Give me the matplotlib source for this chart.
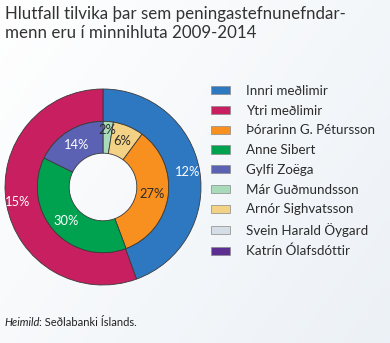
import matplotlib
matplotlib.use("Agg")
import matplotlib.pyplot as plt
from matplotlib.patches import Patch
import numpy as np

plt.rcParams['font.family'] = ['Lato', 'DejaVu Sans']

title = "Hlutfall tilvika þar sem peningastefnunefndar-\nmenn eru í minnihluta 2009-2014"
outer_labels = ["Innri meðlimir", "Ytri meðlimir"]
outer_values = [12, 15]
inner_labels = ["Már Guðmundsson", "Arnór Sighvatsson", "Þórarinn G. Pétursson", "Anne Sibert", "Gylfi Zoëga"]
inner_values = [2, 6, 27, 30, 14]
legend_labels = ["Innri meðlimir", "Ytri meðlimir", "Þórarinn G. Pétursson", "Anne Sibert",
                 "Gylfi Zoëga", "Már Guðmundsson", "Arnór Sighvatsson", "Svein Harald Öygard",
                 "Katrín Ólafsdóttir"]
colors = {
    "Innri meðlimir": "#2e78c2",
    "Ytri meðlimir": "#c71f5f",
    "Þórarinn G. Pétursson": "#f7901e",
    "Anne Sibert": "#00a24f",
    "Gylfi Zoëga": "#5b62b4",
    "Már Guðmundsson": "#a9dbbb",
    "Arnór Sighvatsson": "#f3d185",
    "Svein Harald Öygard": "#d5dde6",
    "Katrín Ólafsdóttir": "#5c2e91",
}
dark_text = {"Þórarinn G. Pétursson", "Már Guðmundsson", "Arnór Sighvatsson"}
source = "Seðlabanki Íslands."

W, H = 390, 343
fig = plt.figure(figsize=(W / 100, H / 100), dpi=100)

# background gradient
bg = fig.add_axes([0, 0, 1, 1], zorder=-10)
gx = np.linspace(0, 1, 200)
gy = np.linspace(0, 1, 200)
X, Y = np.meshgrid(gx, gy)
t = np.clip(0.6 * X + 0.4 * Y, 0, 1)
c0 = np.array([1.0, 1.0, 1.0])
c1 = np.array([0.925, 0.945, 0.965])
img = c0[None, None, :] * (1 - t[..., None]) + c1[None, None, :] * t[..., None]
bg.imshow(img, aspect='auto', extent=[0, 1, 0, 1], origin='upper')
bg.axis('off')

# pie axes
cx, cy, R = 103, 187, 98
ax = fig.add_axes([(cx - R) / W, (H - cy - R) / H, 2 * R / W, 2 * R / H])
ax.set_xlim(-1, 1)
ax.set_ylim(-1, 1)
ax.set_aspect('equal')
ax.axis('off')

edge = dict(edgecolor='#3a3a3a', linewidth=0.6)
w_out, _ = ax.pie(outer_values, radius=1.0, startangle=90, counterclock=False,
                  colors=[colors[l] for l in outer_labels],
                  wedgeprops=dict(width=0.33, **edge), frame=False)
w_in, _ = ax.pie(inner_values, radius=0.67, startangle=90, counterclock=False,
                 colors=[colors[l] for l in inner_labels],
                 wedgeprops=dict(width=0.325, **edge), frame=False)
ax.set_xlim(-1, 1)
ax.set_ylim(-1, 1)

def add_labels(values, labels, r, rmap=None):
    total = sum(values)
    cum = 0
    for v, l in zip(values, labels):
        mid = 90 - 360 * (cum + v / 2) / total
        cum += v
        rr = rmap.get(l, r) if rmap else r
        x, y = rr * np.cos(np.radians(mid)), rr * np.sin(np.radians(mid))
        col = '#2b2b2b' if l in dark_text else 'white'
        ax.text(x, y, f"{v}%", ha='center', va='center', fontsize=9.3, color=col)

add_labels(outer_values, outer_labels, 0.88)
add_labels(inner_values, inner_labels, 0.51, {"Már Guðmundsson": 0.585})

# title
fig.text(5 / W, 1 - 6 / H, title, ha='left', va='top', fontsize=12.2, color='#333333',
         linespacing=1.2)

# legend
handles = [Patch(facecolor=colors[l], edgecolor='#8a8a8a', linewidth=0.5) for l in legend_labels]
fig.legend(handles, legend_labels, loc='upper left', bbox_to_anchor=(211 / W, 1 - 85 / H),
           frameon=False, fontsize=9.6, handlelength=1.45, handleheight=0.55,
           handletextpad=1.2, labelspacing=0.58, borderaxespad=0, borderpad=0,
           labelcolor='#2b2b2b')

# source
fig.text(4 / W, 1 - 323 / H, "Heimild", ha='left', va='center', fontsize=8,
         style='italic', color='#222222')
fig.text(39 / W, 1 - 323 / H, ": " + source, ha='left', va='center', fontsize=8,
         color='#222222')

fig.savefig("out.png", dpi=100)
